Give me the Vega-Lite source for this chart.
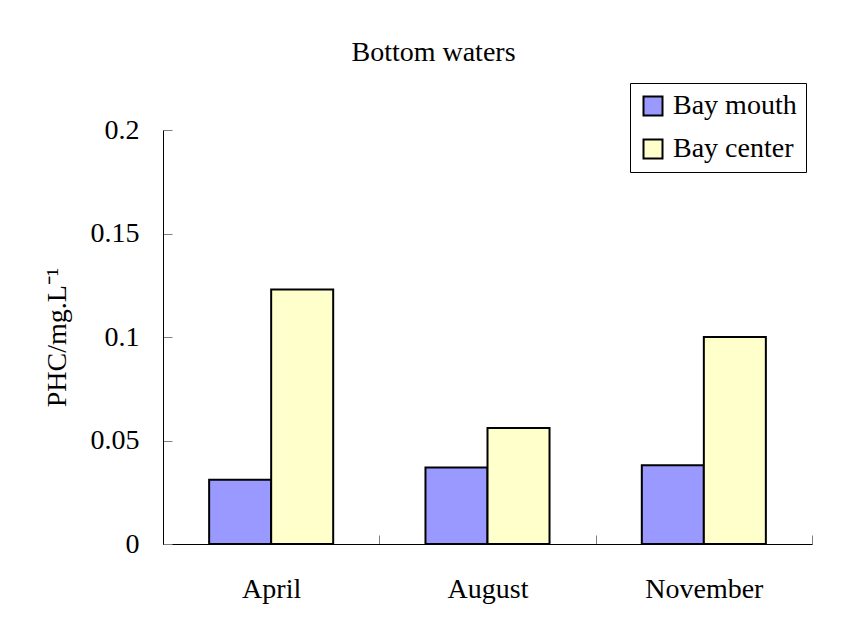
{
  "$schema": "https://vega.github.io/schema/vega-lite/v6.json",
  "width": 649,
  "height": 414,
  "autosize": {"type": "none"},
  "padding": {"left": 163, "top": 130, "right": 33, "bottom": 83},
  "background": "white",
  "title": {
    "text": "Bottom waters",
    "font": "Liberation Serif",
    "fontSize": 28,
    "fontWeight": "normal",
    "color": "black",
    "anchor": "middle",
    "frame": "group",
    "dx": -54,
    "offset": 16
  },
  "data": {
    "values": [
      {"month": "April", "site": "Bay mouth", "phc": 0.031},
      {"month": "April", "site": "Bay center", "phc": 0.123},
      {"month": "August", "site": "Bay mouth", "phc": 0.037},
      {"month": "August", "site": "Bay center", "phc": 0.056},
      {"month": "November", "site": "Bay mouth", "phc": 0.038},
      {"month": "November", "site": "Bay center", "phc": 0.1}
    ]
  },
  "mark": {"type": "bar", "stroke": "black", "strokeWidth": 2, "opacity": 1},
  "encoding": {
    "x": {
      "field": "month",
      "type": "nominal",
      "sort": ["April", "August", "November"],
      "scale": {"paddingInner": 0, "paddingOuter": 0},
      "axis": {
        "title": null,
        "labelAngle": 0,
        "tickBand": "extent",
        "tickSize": -9,
        "tickColor": "#808080",
        "domainColor": "black",
        "labelFont": "Liberation Serif",
        "labelFontSize": 28,
        "labelColor": "black",
        "labelPadding": 40,
        "labelBaseline": "top"
      }
    },
    "xOffset": {
      "field": "site",
      "type": "nominal",
      "sort": ["Bay mouth", "Bay center"],
      "scale": {"paddingInner": 0, "paddingOuter": 0.744}
    },
    "y": {
      "field": "phc",
      "type": "quantitative",
      "scale": {"domain": [0, 0.2], "nice": false},
      "axis": {
        "title": "PHC/mg.L⁻¹",
        "titleFont": "Liberation Serif",
        "titleFontSize": 28,
        "titleFontWeight": "normal",
        "titleColor": "black",
        "titleAngle": -90,
        "titleX": -106,
        "titleY": 207,
        "titleAlign": "center",
        "titleBaseline": "middle",
        "values": [0, 0.05, 0.1, 0.15, 0.2],
        "format": ".2~f",
        "grid": false,
        "tickSize": -9,
        "tickColor": "#808080",
        "domainColor": "black",
        "labelFont": "Liberation Serif",
        "labelFontSize": 28,
        "labelColor": "black",
        "labelPadding": 33
      }
    },
    "color": {
      "field": "site",
      "type": "nominal",
      "scale": {"domain": ["Bay mouth", "Bay center"], "range": ["#9999FF", "#FFFFCC"]},
      "legend": {
        "title": null,
        "orient": "none",
        "legendX": 467,
        "legendY": -47,
        "strokeColor": "black",
        "fillColor": "white",
        "padding": 9,
        "symbolType": "square",
        "symbolSize": 361,
        "symbolStrokeColor": "black",
        "symbolStrokeWidth": 2,
        "symbolOpacity": 1,
        "labelFont": "Liberation Serif",
        "labelFontSize": 28,
        "labelColor": "black",
        "labelOffset": 6,
        "rowPadding": 15
      }
    }
  },
  "config": {"view": {"stroke": null}}
}
